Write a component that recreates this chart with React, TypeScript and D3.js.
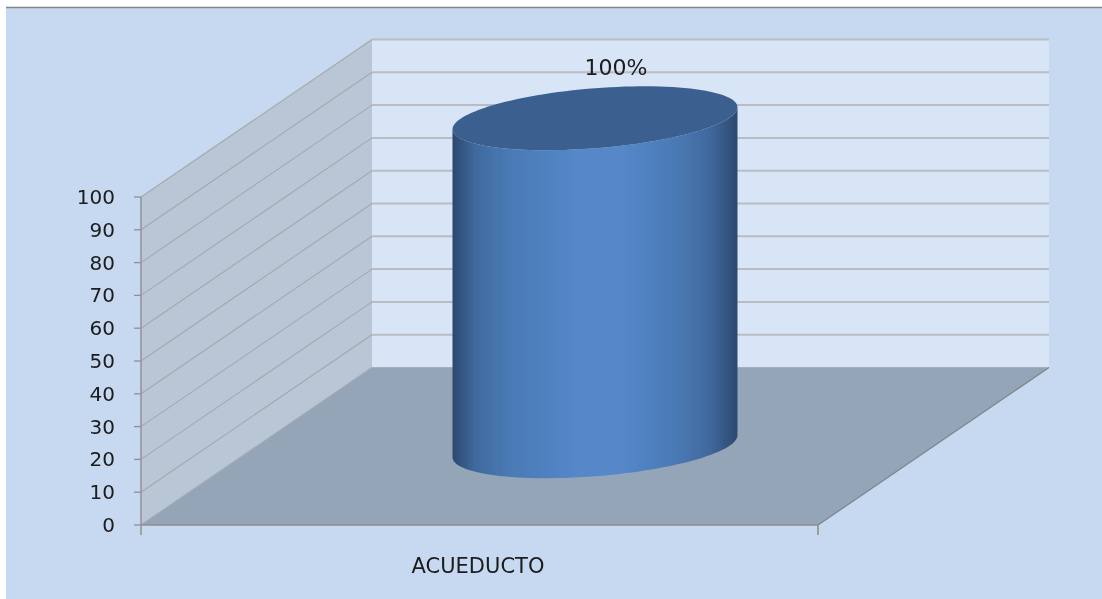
import React from "react";
import * as d3 from "d3";

const categories = ["ACUEDUCTO"];
const values = [100];
const labels = ["100%"];
const yTicks = [0, 10, 20, 30, 40, 50, 60, 70, 80, 90, 100];

const W = 1102, H = 599;
const y = d3.scaleLinear().domain([0, 100]).range([525, 197]);
const x = d3.scaleBand<string>().domain(categories).range([141, 818]);
const DX = 231, DY = -157.5;
const FONT = "'DejaVu Sans', Verdana, sans-serif";

export default function App() {
  const x0 = x.range()[0], x1 = x.range()[1];
  const line = d3.line();
  const poly = (p: [number, number][]) => line(p)! + "Z";
  const cx = x(categories[0])! + x.bandwidth() / 2 + DX / 2;
  const A = 142.5, B = 30, S = -11;
  const base = y(0) + DY / 2;
  const top = y(values[0]) + DY / 2;
  const ts = d3.range(0, 361, 3).map((d) => (d * Math.PI) / 180);
  const ell = (cy: number) => ts.map((t) => [cx + A * Math.cos(t), cy + B * Math.sin(t) + S * Math.cos(t)] as [number, number]);
  const lower = (cy: number) => ts.filter((t) => t <= Math.PI).map((t) => [cx + A * Math.cos(t), cy + B * Math.sin(t) + S * Math.cos(t)] as [number, number]);
  const body = [...lower(base), ...lower(top).reverse()];
  return (
    <svg width={W} height={H} style={{ position: "fixed", left: 0, top: 0, background: "#fff" }}>
      <defs>
        <linearGradient id="cyl" x1={cx - A} x2={cx + A} y1="0" y2="0" gradientUnits="userSpaceOnUse">
          <stop offset="0" stopColor="#2c4870" />
          <stop offset="0.08" stopColor="#3f6a9d" />
          <stop offset="0.2" stopColor="#4a7ab5" />
          <stop offset="0.43" stopColor="#5487c9" />
          <stop offset="0.6" stopColor="#5487c9" />
          <stop offset="0.78" stopColor="#4a7ab5" />
          <stop offset="0.9" stopColor="#41699d" />
          <stop offset="1" stopColor="#2c4870" />
        </linearGradient>
        <filter id="soft" x="0" y="0" width="100%" height="100%" filterUnits="userSpaceOnUse">
          <feGaussianBlur stdDeviation="0.45" />
        </filter>
      </defs>
      <g filter="url(#soft)">
        <rect x={6} y={8} width={W} height={H} fill="#c6d9f1" />
        <line x1={6} x2={W + 4} y1={7.5} y2={7.5} stroke="#848484" strokeWidth={1.5} />
        <path d={poly([[x0 + DX, y(100) + DY], [x1 + DX, y(100) + DY], [x1 + DX, y(0) + DY], [x0 + DX, y(0) + DY]])} fill="#d8e5f6" />
        <path d={poly([[x0, y(100)], [x0 + DX, y(100) + DY], [x0 + DX, y(0) + DY], [x0, y(0)]])} fill="#b8c6d6" />
        <path d={poly([[x0, y(0)], [x0 + DX, y(0) + DY], [x1 + DX, y(0) + DY], [x1, y(0)]])} fill="#95a5b8" />
        {yTicks.map((t) => (
          <g key={t} fill="none">
            {t > 0 && (
              <line x1={x0 + DX} x2={x1 + DX} y1={y(t) + DY} y2={y(t) + DY} stroke="#b9bdc3" strokeWidth={2} />
            )}
            <line x1={x0} x2={x0 + DX} y1={y(t)} y2={y(t) + DY} stroke={t === 0 ? "#a3aab3" : "#a6a8aa"} strokeWidth={1.1} />
            <line x1={x0 - 7} x2={x0} y1={y(t)} y2={y(t)} stroke="#8f8f8f" strokeWidth={1.3} />
            <text x={115} y={y(t) + 7} textAnchor="end" fontFamily={FONT} fontSize={20} fill="#1b1b1b" stroke="none">{t}</text>
          </g>
        ))}
        <line x1={x0 + DX} x2={x1 + DX} y1={y(0) + DY} y2={y(0) + DY} stroke="#a9afb6" strokeWidth={1} />
        <line x1={x1} x2={x1 + DX} y1={y(0)} y2={y(0) + DY} stroke="#7f868e" strokeWidth={1.3} />
        <line x1={x0} x2={x0} y1={y(100)} y2={y(0) + 10} stroke="#969696" strokeWidth={1.6} />
        <line x1={x0} x2={x1} y1={y(0)} y2={y(0)} stroke="#8f8f8f" strokeWidth={1.6} />
        <line x1={x1} x2={x1} y1={y(0)} y2={y(0) + 10} stroke="#8f8f8f" strokeWidth={1.6} />
        <path d={line(body)! + "Z"} fill="url(#cyl)" />
        <path d={line(ell(top))! + "Z"} fill="#3b618f" />
        <text x={616} y={75} textAnchor="middle" fontFamily={FONT} fontSize={22} fill="#1b1b1b">{labels[0]}</text>
        <text x={478} y={572.5} textAnchor="middle" fontFamily={FONT} fontSize={21} fill="#1b1b1b">{categories[0]}</text>
      </g>
    </svg>
  );
}
